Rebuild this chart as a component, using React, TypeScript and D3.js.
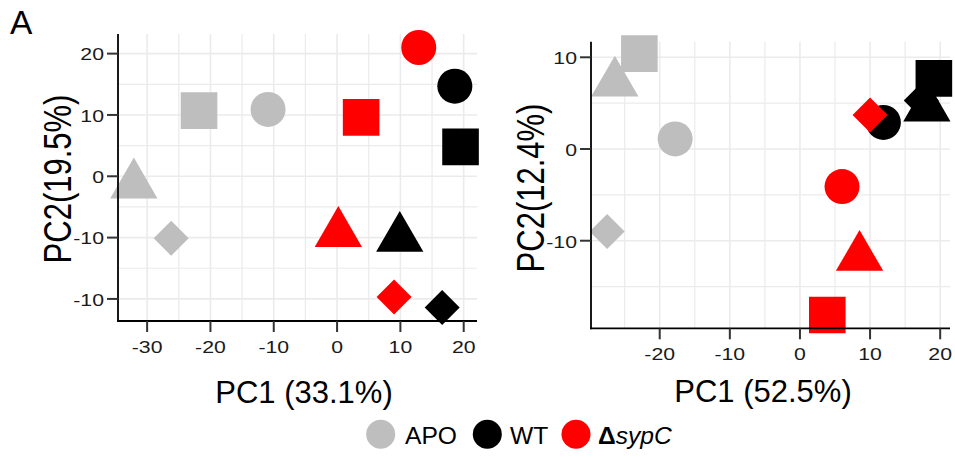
import * as d3 from "d3";

// sample groups and replicate shapes
const groups = ["APO", "WT", "ΔsypC"];
const groupColors = ["#bebebe", "#000000", "#ff0000"];
const shapes = ["circle", "square", "triangle", "diamond"];

// left panel: PC1 / PC2 per group, one row per replicate (circle, square, triangle, diamond)
const leftAPO = [[-10.9, 10.9], [-21.8, 10.7], [-32.1, -1.4], [-26.2, -10.1]];
const leftWT = [[18.6, 14.7], [19.5, 4.8], [9.9, -10.1], [16.6, -21.4]];
const leftSypC = [[12.9, 21.0], [3.8, 9.6], [0.2, -9.3], [9.0, -19.7]];

// right panel
const rightAPO = [[-17.8, 1.1], [-22.9, 10.4], [-26.4, 7.2], [-27.5, -9.0]];
const rightWT = [[11.9, 2.9], [19.1, 7.7], [18.1, 4.5], [17.3, 5.3]];
const rightSypC = [[6.0, -4.1], [3.9, -18.1], [8.5, -11.8], [10.0, 3.7]];

const leftXTicks = [-30, -20, -10, 0, 10, 20];
const leftXMinor = [-25, -15, -5, 5, 15];
const leftYTicks = [20, 10, 0, -10, -20];
const leftYTickLabels = ["20", "10", "0", "-10", "-10"];
const leftYMinor = [15, 5, -5, -15];

const rightXTicks = [-20, -10, 0, 10, 20];
const rightXMinor = [-25, -15, -5, 5, 15];
const rightYTicks = [10, 0, -10];
const rightYTickLabels = ["10", "0", "-10"];
const rightYMinor = [5, -5, -15];

const FONT = "'Liberation Sans', Arial, Helvetica, sans-serif";
const STRETCH = 1.25; // tick labels and y titles are drawn a bit wide in the original

function shapePath(shape: string) {
  if (shape === "circle") {
    const r = 17.5;
    return `M${-r},0A${r},${r} 0 1,0 ${r},0A${r},${r} 0 1,0 ${-r},0Z`;
  }
  if (shape === "square") {
    const h = 18.3;
    return `M${-h},${-h}H${h}V${h}H${-h}Z`;
  }
  if (shape === "triangle") {
    const R = 27.3;
    const w = (R * Math.sqrt(3)) / 2;
    return `M0,${-R}L${w},${R / 2}L${-w},${R / 2}Z`;
  }
  const d = 17.5;
  return `M0,${-d}L${d},0L0,${d}L${-d},0Z`;
}

type PanelProps = {
  series: number[][][];
  xDomain: [number, number];
  yDomain: [number, number];
  left: number;
  right: number;
  top: number;
  bottom: number;
  xTicks: number[];
  xMinor: number[];
  yTicks: number[];
  yTickLabels: string[];
  yMinor: number[];
  xTitle: string;
  yTitle: string;
  xTitlePos: [number, number];
  yTitlePos: [number, number];
};

function Panel(p: PanelProps) {
  const x = d3.scaleLinear().domain(p.xDomain).range([p.left, p.right]);
  const y = d3.scaleLinear().domain(p.yDomain).range([p.bottom, p.top]);
  const tickLen = 11;

  return (
    <g>
      {/* grid */}
      {p.xMinor.map((v) => (
        <line key={"xm" + v} x1={x(v)} x2={x(v)} y1={p.top} y2={p.bottom} stroke="#ebebeb" strokeWidth={1.2} />
      ))}
      {p.yMinor.map((v) => (
        <line key={"ym" + v} x1={p.left} x2={p.right} y1={y(v)} y2={y(v)} stroke="#ebebeb" strokeWidth={1.2} />
      ))}
      {p.xTicks.map((v) => (
        <line key={"xg" + v} x1={x(v)} x2={x(v)} y1={p.top} y2={p.bottom} stroke="#ebebeb" strokeWidth={1.6} />
      ))}
      {p.yTicks.map((v) => (
        <line key={"yg" + v} x1={p.left} x2={p.right} y1={y(v)} y2={y(v)} stroke="#ebebeb" strokeWidth={1.6} />
      ))}

      {/* points */}
      {p.series.map((pts, gi) =>
        pts.map((d, si) => (
          <path
            key={gi + "-" + si}
            d={shapePath(shapes[si])}
            transform={`translate(${x(d[0])},${y(d[1])})`}
            fill={groupColors[gi]}
          />
        ))
      )}

      {/* axes */}
      <line x1={p.left} x2={p.left} y1={p.top} y2={p.bottom + 0.9} stroke="#000" strokeWidth={1.8} />
      <line x1={p.left - 0.9} x2={p.right} y1={p.bottom} y2={p.bottom} stroke="#000" strokeWidth={1.8} />
      {p.xTicks.map((v) => (
        <g key={"xt" + v}>
          <line x1={x(v)} x2={x(v)} y1={p.bottom} y2={p.bottom + tickLen} stroke="#333" strokeWidth={2} />
          <text
            transform={`translate(${x(v)},${p.bottom + 31.5}) scale(${STRETCH},1)`}
            textAnchor="middle"
            fontSize={17}
            fontFamily={FONT}
            fill="#1a1a1a"
          >
            {String(v)}
          </text>
        </g>
      ))}
      {p.yTicks.map((v, i) => (
        <g key={"yt" + v + i}>
          <line x1={p.left - tickLen} x2={p.left} y1={y(v)} y2={y(v)} stroke="#333" strokeWidth={2} />
          <text
            transform={`translate(${p.left - tickLen - 3},${y(v) + 6.8}) scale(${STRETCH},1)`}
            textAnchor="end"
            fontSize={17}
            fontFamily={FONT}
            fill="#1a1a1a"
          >
            {p.yTickLabels[i]}
          </text>
        </g>
      ))}

      {/* titles */}
      <text x={p.xTitlePos[0]} y={p.xTitlePos[1]} textAnchor="middle" fontSize={31} fontFamily={FONT} fill="#000">
        {p.xTitle}
      </text>
      <text
        transform={`translate(${p.yTitlePos[0]},${p.yTitlePos[1]}) scale(${STRETCH},1) rotate(-90)`}
        textAnchor="middle"
        dy="0.36em"
        fontSize={31}
        fontFamily={FONT}
        fill="#000"
      >
        {p.yTitle}
      </text>
    </g>
  );
}

export default function App() {
  const legendX = [380.7, 487.3, 576];
  const legendTextX = [405, 510, 598];

  return (
    <svg width={955} height={457} style={{ position: "absolute", left: 0, top: 0, background: "#fff" }}>
      <text x={10} y={34.3} fontSize={33.5} fontFamily={FONT} fill="#000">
        A
      </text>

      <Panel
        series={[leftAPO, leftWT, leftSypC]}
        xDomain={[-34.6, 22.1]}
        yDomain={[-23.6, 23.2]}
        left={118}
        right={477}
        top={34}
        bottom={321}
        xTicks={leftXTicks}
        xMinor={leftXMinor}
        yTicks={leftYTicks}
        yTickLabels={leftYTickLabels}
        yMinor={leftYMinor}
        xTitle="PC1 (33.1%)"
        yTitle="PC2(19.5%)"
        xTitlePos={[304, 403]}
        yTitlePos={[57.5, 179]}
      />

      <Panel
        series={[rightAPO, rightWT, rightSypC]}
        xDomain={[-29.8, 21.4]}
        yDomain={[-19.55, 11.7]}
        left={591}
        right={950}
        top={41.7}
        bottom={328.3}
        xTicks={rightXTicks}
        xMinor={rightXMinor}
        yTicks={rightYTicks}
        yTickLabels={rightYTickLabels}
        yMinor={rightYMinor}
        xTitle="PC1 (52.5%)"
        yTitle="PC2(12.4%)"
        xTitlePos={[763, 402]}
        yTitlePos={[530, 188]}
      />

      {/* legend */}
      {groups.map((g, i) => (
        <g key={g}>
          <circle cx={legendX[i]} cy={434.3} r={14.5} fill={groupColors[i]} />
          <text x={legendTextX[i]} y={444.3} fontSize={24.6} fontFamily={FONT} fill="#000">
            {g === "ΔsypC" ? (
              <>
                <tspan fontWeight="bold">Δ</tspan>
                <tspan fontStyle="italic">sypC</tspan>
              </>
            ) : (
              g
            )}
          </text>
        </g>
      ))}
    </svg>
  );
}
